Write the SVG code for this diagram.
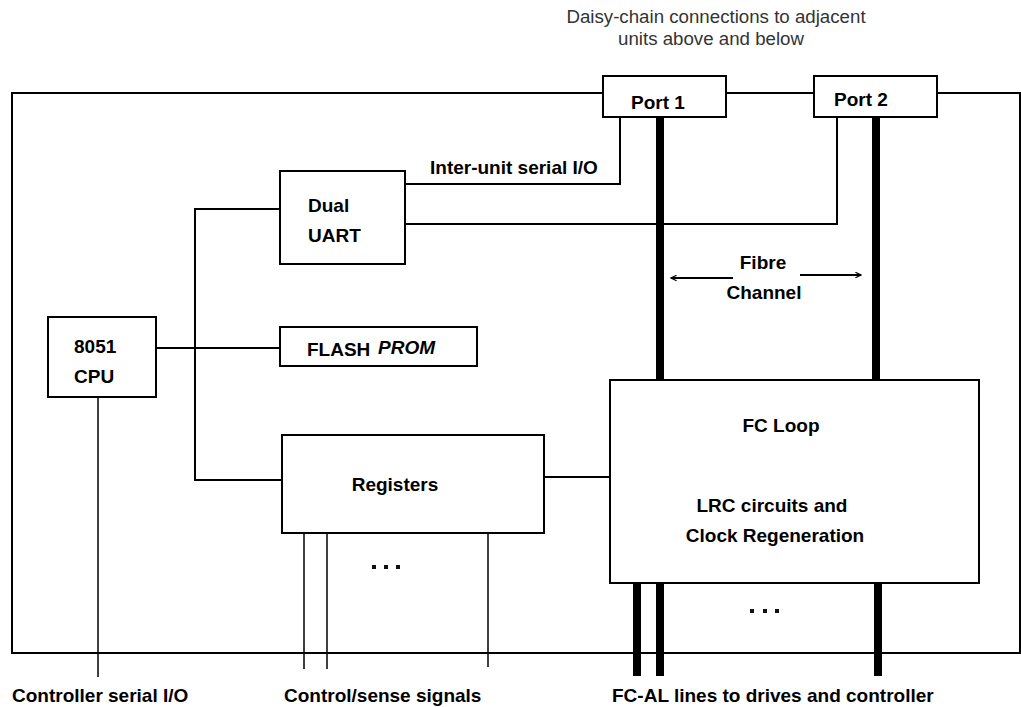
<svg xmlns="http://www.w3.org/2000/svg" width="1021" height="707" viewBox="0 0 1021 707">
  <style>
    .box { fill: #ffffff; stroke: #000000; stroke-width: 2; }
    .wire { fill: none; stroke: #000000; stroke-width: 2; }
    .thin { fill: none; stroke: #000000; stroke-width: 1.5; }
    .fibre { fill: none; stroke: #000000; stroke-width: 8; }
    .lbl { font-family: "Liberation Sans", Arial, Helvetica, sans-serif; font-weight: bold; font-size: 19px; fill: #000000; }
    .ital { font-style: italic; }
    .mid { text-anchor: middle; }
    .note { font-family: "Liberation Sans", Arial, Helvetica, sans-serif; font-size: 18.7px; fill: #333333; text-anchor: middle; }
    .dot { fill: #111111; }
  </style>
  <defs>
    <marker id="head" viewBox="0 0 10 10" refX="9" refY="5" markerWidth="7" markerHeight="7" markerUnits="userSpaceOnUse" orient="auto">
      <path d="M1,1 L9,5 L1,9" fill="none" stroke="#000000" stroke-width="1.6"/>
    </marker>
  </defs>

  <rect width="1021" height="707" fill="#ffffff"/>

  <!-- enclosure outline -->
  <rect id="enclosure" x="12" y="93" width="1008" height="560" fill="none" stroke="#000000" stroke-width="2"/>

  <!-- daisy-chain caption -->
  <text class="note" x="716" y="23">Daisy-chain connections to adjacent</text>
  <text class="note" x="711" y="45">units above and below</text>

  <!-- connectors -->
  <g id="connectors">
    <polyline class="wire" points="405,184 620,184 620,117"/>
    <polyline class="wire" points="405,224 837,224 837,117"/>
    <line class="wire" x1="156" y1="348" x2="280" y2="348"/>
    <polyline class="wire" points="280,209 195,209 195,480 282,480"/>
    <line class="wire" x1="544" y1="477" x2="610" y2="477"/>
    <line class="thin" x1="98" y1="397" x2="98" y2="677"/>
    <line class="thin" x1="304" y1="533" x2="304" y2="669"/>
    <line class="thin" x1="327" y1="533" x2="327" y2="669"/>
    <line class="thin" x1="488" y1="533" x2="488" y2="667"/>
    <line class="fibre" x1="660" y1="117" x2="660" y2="381"/>
    <line class="fibre" x1="876" y1="117" x2="876" y2="382"/>
    <line class="fibre" x1="637" y1="583" x2="637" y2="676"/>
    <line class="fibre" x1="660" y1="581" x2="660" y2="676"/>
    <line class="fibre" x1="878" y1="583" x2="878" y2="676"/>
    <line class="wire" x1="733" y1="278" x2="671" y2="278" marker-end="url(#head)"/>
    <line class="wire" x1="800" y1="275" x2="861" y2="275" marker-end="url(#head)"/>
  </g>

  <g id="fibre-label">
    <text class="lbl mid" x="763" y="269">Fibre</text>
    <text class="lbl mid" x="764" y="299">Channel</text>
  </g>
  <text class="lbl" x="430" y="174">Inter-unit serial I/O</text>

  <!-- nodes -->
  <g id="port1">
    <rect class="box" x="603" y="76" width="123" height="41"/>
    <text class="lbl" x="631" y="109">Port 1</text>
  </g>
  <g id="port2">
    <rect class="box" x="814" y="76" width="123" height="41"/>
    <text class="lbl" x="834" y="106">Port 2</text>
  </g>
  <g id="uart">
    <rect class="box" x="280" y="171" width="125" height="93"/>
    <text class="lbl" x="308" y="212">Dual</text>
    <text class="lbl" x="308" y="242">UART</text>
  </g>
  <g id="cpu">
    <rect class="box" x="48" y="317" width="108" height="80"/>
    <text class="lbl" x="74" y="353">8051</text>
    <text class="lbl" x="74" y="383">CPU</text>
  </g>
  <g id="flash">
    <rect class="box" x="280" y="327" width="197" height="39"/>
    <text class="lbl" x="307" y="356">FLASH</text>
    <text class="lbl ital" x="378" y="354">PROM</text>
  </g>
  <g id="registers">
    <rect class="box" x="282" y="435" width="262" height="98"/>
    <text class="lbl mid" x="395" y="491">Registers</text>
  </g>
  <g id="fc-loop">
    <rect class="box" x="610" y="380" width="369" height="203"/>
    <text class="lbl mid" x="781" y="432">FC Loop</text>
    <text class="lbl mid" x="772" y="512">LRC circuits and</text>
    <text class="lbl mid" x="775" y="542">Clock Regeneration</text>
  </g>

  <!-- ellipsis marks -->
  <g id="ellipses">
    <rect class="dot" x="372" y="565" width="4" height="4"/>
    <rect class="dot" x="384" y="565" width="4" height="4"/>
    <rect class="dot" x="396" y="565" width="4" height="4"/>
    <rect class="dot" x="750" y="609" width="4" height="4"/>
    <rect class="dot" x="763" y="609" width="4" height="4"/>
    <rect class="dot" x="775" y="609" width="4" height="4"/>
  </g>

  <!-- bottom labels -->
  <text class="lbl" x="12" y="702">Controller serial I/O</text>
  <text class="lbl" x="284" y="702">Control/sense signals</text>
  <text class="lbl" x="612" y="702">FC-AL lines to drives and controller</text>
</svg>
